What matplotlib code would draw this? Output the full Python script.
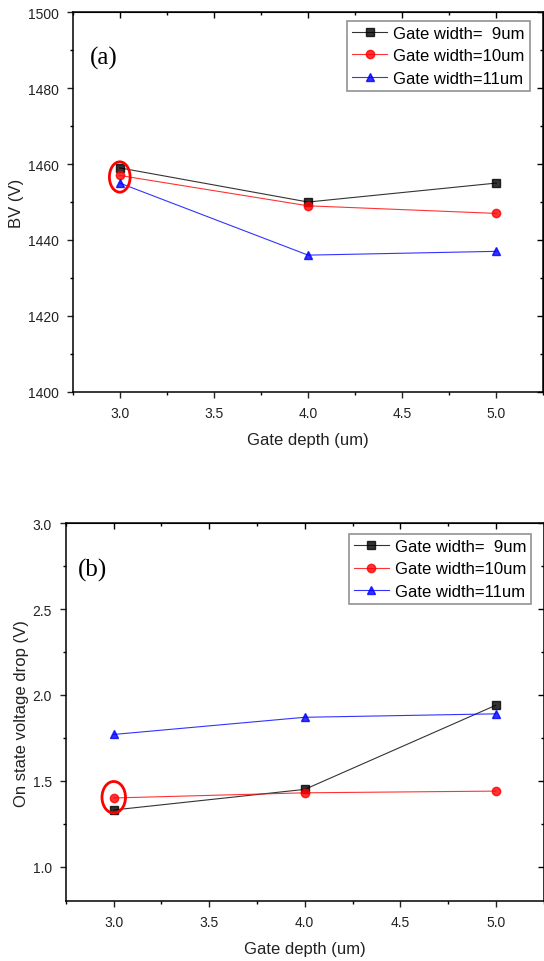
import numpy as np
import matplotlib.pyplot as plt
from matplotlib.patches import Ellipse
from matplotlib.ticker import MultipleLocator

# Gate depth (um) and the three gate widths.
depth = [3.0, 4.0, 5.0]
labels = ["Gate width=  9um", "Gate width=10um", "Gate width=11um"]

# (a) Breakdown voltage (V).
bv_9 = [1459, 1450, 1455]
bv_10 = [1457, 1449, 1447]
bv_11 = [1455, 1436, 1437]

# (b) On state voltage drop (V).
von_9 = [1.33, 1.45, 1.94]
von_10 = [1.40, 1.43, 1.44]
von_11 = [1.77, 1.87, 1.89]

colors = ["black", "red", "blue"]
markers = ["s", "o", "^"]

plt.rcParams["font.family"] = ["Liberation Sans", "DejaVu Sans"]

fig = plt.figure(figsize=(5.44, 9.62), dpi=100)
ax1 = fig.add_axes([0.1336, 0.5918, 0.8654, 0.3943])
ax2 = fig.add_axes([0.1213, 0.0624, 0.8778, 0.3926])


def style_axes(ax, ymajor, yminor):
    ax.set_xlim(2.75, 5.25)
    ax.xaxis.set_major_locator(MultipleLocator(0.5))
    ax.xaxis.set_minor_locator(MultipleLocator(0.25))
    ax.yaxis.set_major_locator(MultipleLocator(ymajor))
    ax.yaxis.set_minor_locator(MultipleLocator(yminor))
    ax.tick_params(which="major", direction="out", length=4, width=1,
                   labelsize=10, colors="#222222", pad=6)
    ax.tick_params(which="minor", direction="out", length=2.5, width=1)
    for s in ax.spines.values():
        s.set_linewidth(1.1)
    # mirrored ticks on top and right, pointing inwards
    top = ax.secondary_xaxis("top")
    top.xaxis.set_major_locator(MultipleLocator(0.5))
    top.xaxis.set_minor_locator(MultipleLocator(0.25))
    top.tick_params(which="major", direction="in", length=4, width=1, labeltop=False)
    top.tick_params(which="minor", direction="in", length=2.5, width=1)
    right = ax.secondary_yaxis("right")
    right.yaxis.set_major_locator(MultipleLocator(ymajor))
    right.yaxis.set_minor_locator(MultipleLocator(yminor))
    right.tick_params(which="major", direction="in", length=4, width=1, labelright=False)
    right.tick_params(which="minor", direction="in", length=2.5, width=1)
    ax.set_xlabel("Gate depth (um)", fontsize=12, color="#222222", labelpad=9)


def draw_lines(ax, series, anchor):
    for ys, c, m, lab in zip(series, colors, markers, labels):
        ax.plot(depth, ys, color=c, lw=0.8, alpha=0.8, marker=m, markersize=6,
                markerfacecolor=c, markeredgecolor=c, label=lab)
    leg = ax.legend(loc="upper right", bbox_to_anchor=anchor, fontsize=12,
                    frameon=True, fancybox=False, handlelength=2.1,
                    handletextpad=0.35, labelspacing=0.45, borderpad=0.3,
                    borderaxespad=0.0)
    leg.get_frame().set_edgecolor("#777777")
    leg.get_frame().set_linewidth(1.2)
    return leg


# ---- (a)
draw_lines(ax1, [bv_9, bv_10, bv_11], (0.971, 0.978))
ax1.set_ylim(1400, 1500)
style_axes(ax1, 20, 10)
ax1.set_ylabel("BV (V)", fontsize=12, color="#222222", labelpad=3)
ax1.text(0.036, 0.882, "(a)", transform=ax1.transAxes, fontsize=18,
         family="Liberation Serif", va="center", ha="left")
ax1.add_patch(Ellipse((3.0, 1456.6), 0.11, 8.0, fill=False, ec="red", lw=2, zorder=5))

# ---- (b)
draw_lines(ax2, [von_9, von_10, von_11], (0.974, 0.972))
ax2.set_ylim(0.8, 3.0)
style_axes(ax2, 0.5, 0.25)
ax2.set_ylabel("On state voltage drop (V)", fontsize=12, color="#222222", labelpad=3)
ax2.text(0.025, 0.877, "(b)", transform=ax2.transAxes, fontsize=18,
         family="Liberation Serif", va="center", ha="left")
ax2.add_patch(Ellipse((3.0, 1.404), 0.123, 0.184, fill=False, ec="red", lw=2, zorder=5))

fig.savefig("out.png", dpi=100)
